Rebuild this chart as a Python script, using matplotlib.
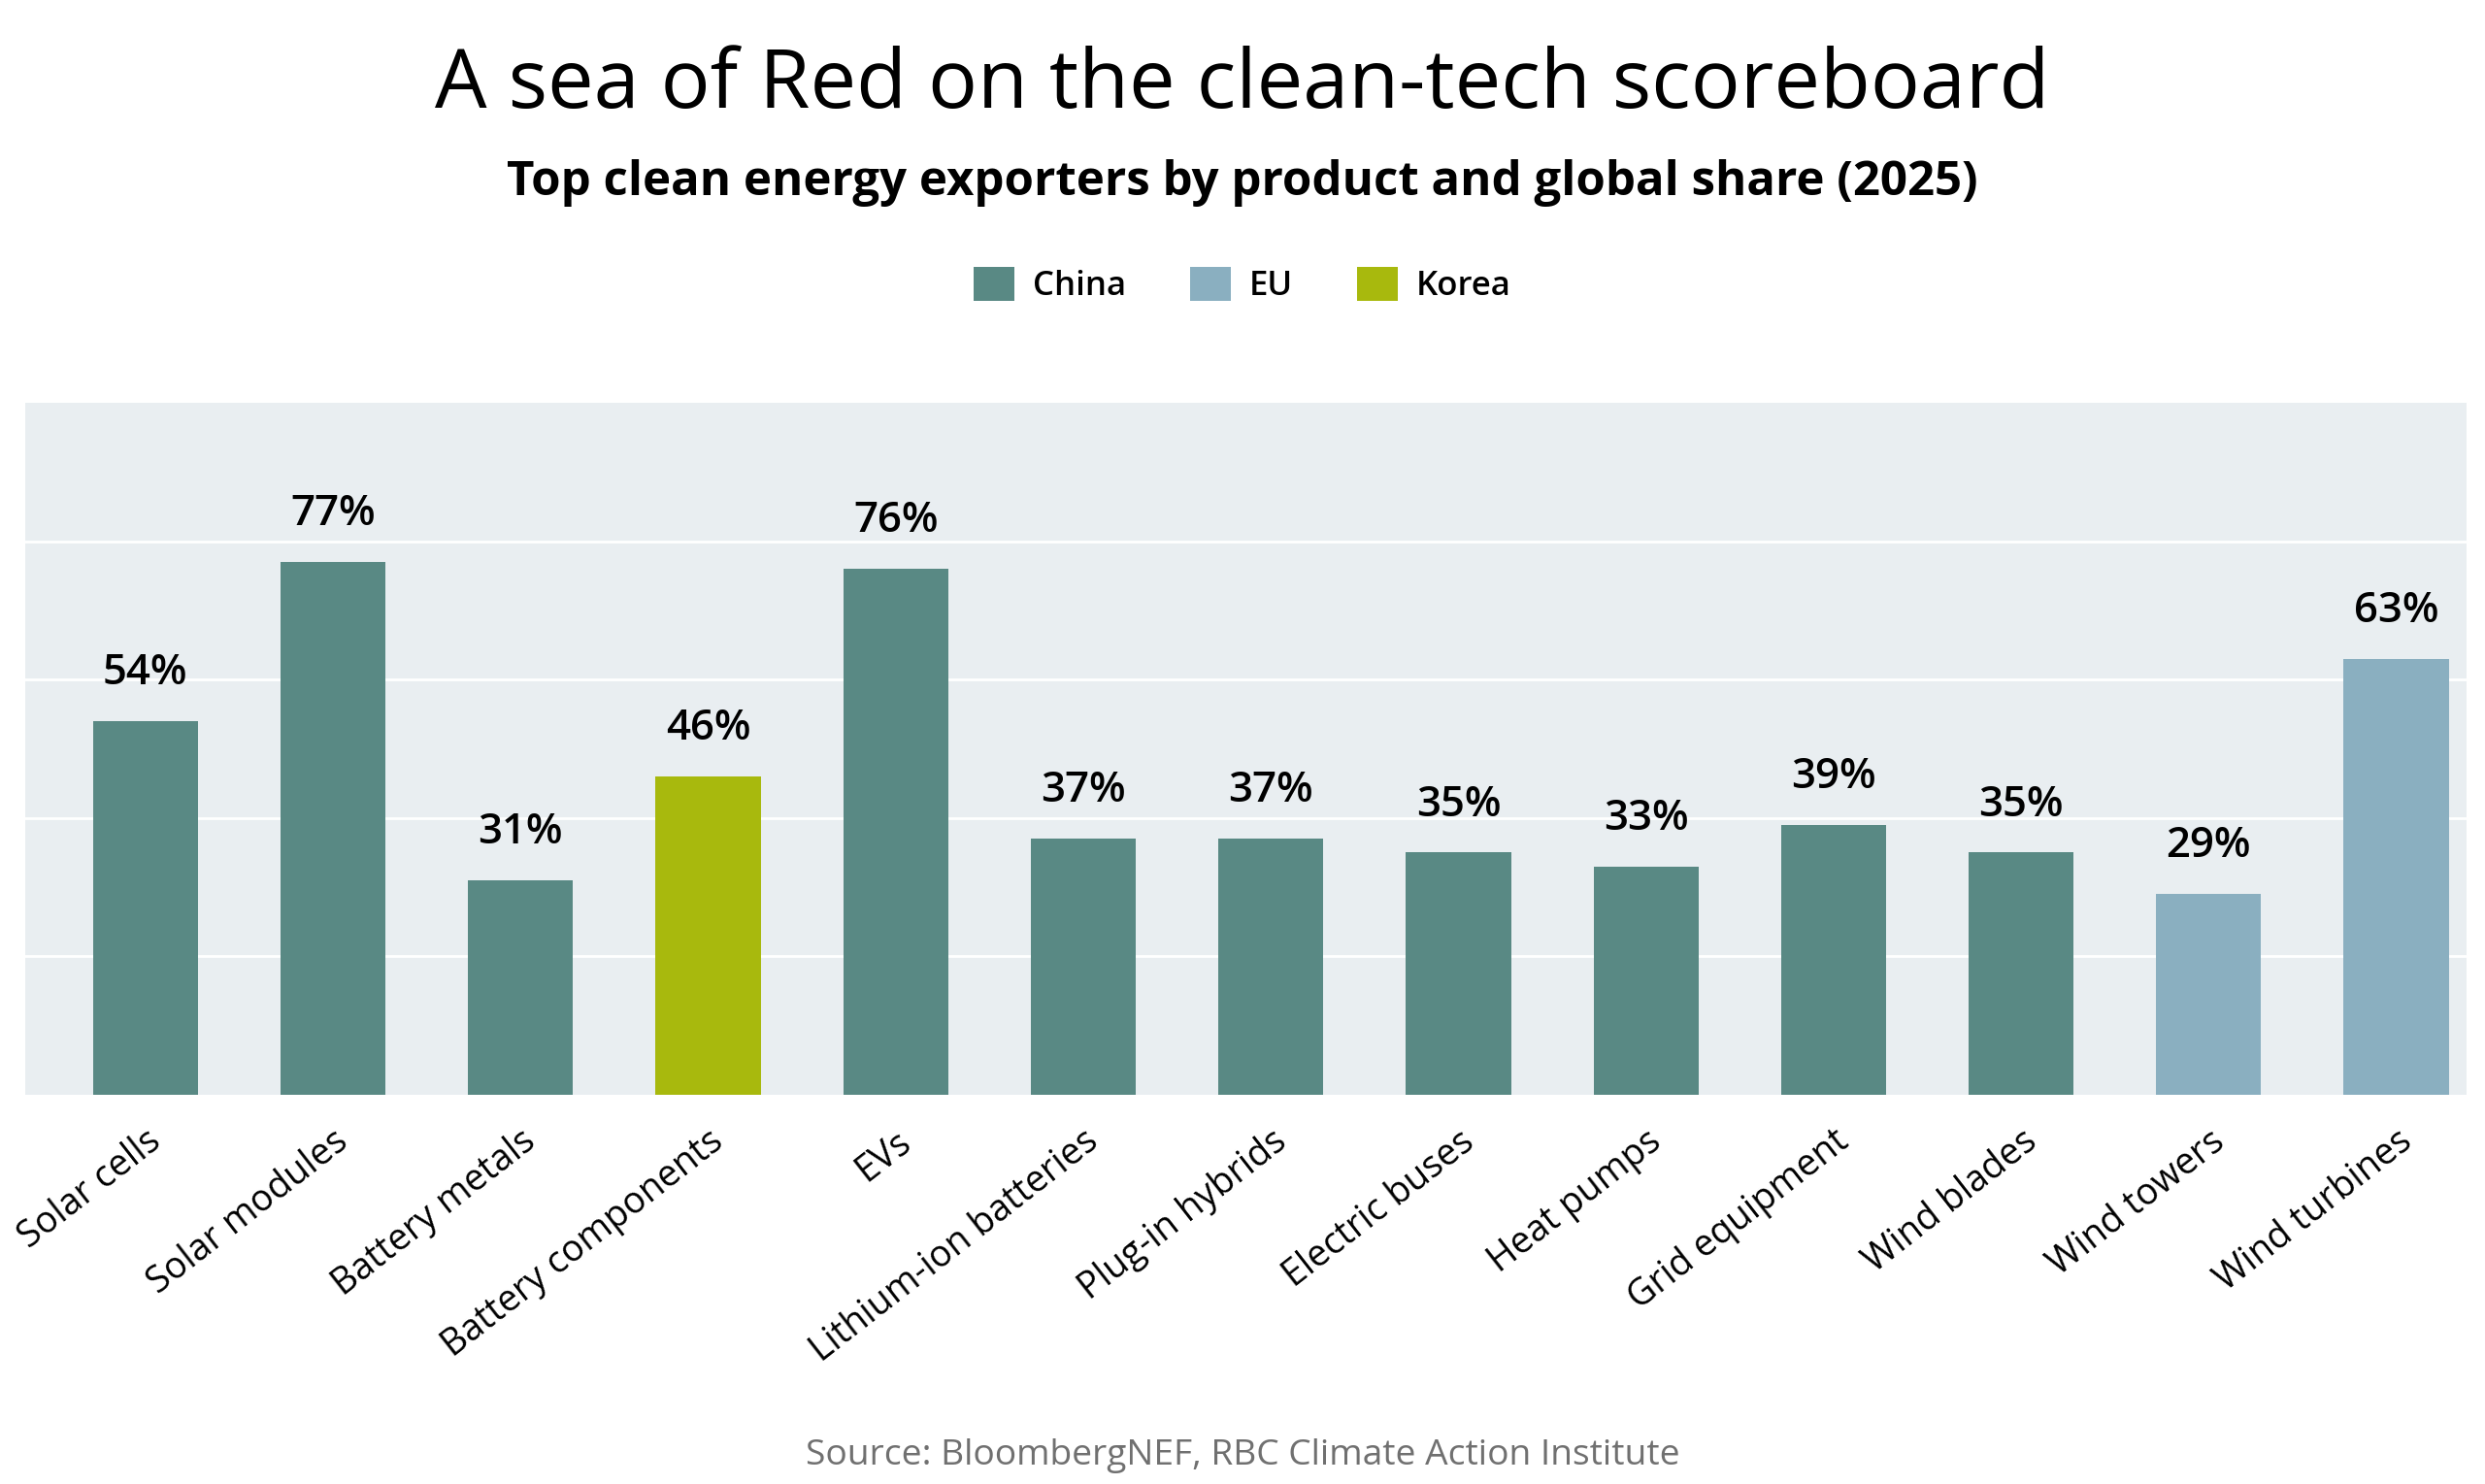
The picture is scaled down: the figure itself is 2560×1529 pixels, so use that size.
import matplotlib
matplotlib.use('Agg')
import matplotlib.pyplot as plt
from matplotlib.patches import Patch

categories = ['Solar cells', 'Solar modules', 'Battery metals', 'Battery components', 'EVs',
              'Lithium-ion batteries', 'Plug-in hybrids', 'Electric buses', 'Heat pumps',
              'Grid equipment', 'Wind blades', 'Wind towers', 'Wind turbines']
shares = [54, 77, 31, 46, 76, 37, 37, 35, 33, 39, 35, 29, 63]
exporters = ['China', 'China', 'China', 'Korea', 'China', 'China', 'China', 'China', 'China',
             'China', 'China', 'EU', 'EU']
legend_order = ['China', 'EU', 'Korea']
yticks = [20, 40, 60, 80]

colordic = {'China': '#598984', 'EU': '#8AAFC0', 'Korea': '#A8B90D'}

plt.rcParams['font.family'] = ['Open Sans', 'DejaVu Sans']

fig = plt.figure(figsize=(25.6, 15.29), dpi=100)
ax = fig.add_axes([0.0102, 0.2623, 0.9824, 0.4663])
ax.set_facecolor('#E9EEF1')

x = list(range(len(categories)))
bars = ax.bar(x, shares, width=0.56, color=[colordic[c] for c in exporters], zorder=3)
for xi, v in zip(x, shares):
    ax.annotate(f'{v}%', (xi, v), xytext=(0, 20), textcoords='offset points',
                ha='center', va='bottom', fontsize=31.5, fontweight='semibold', color='black')

ax.set_xlim(-0.64, len(categories) - 1 + 0.375)
ax.set_ylim(0, 100)
ax.set_yticks(yticks)
ax.set_yticklabels([])
ax.yaxis.grid(True, color='white', linewidth=2, zorder=1)
ax.tick_params(axis='both', length=0)
for s in ax.spines.values():
    s.set_visible(False)

ax.set_xticks(x)
ax.set_xticklabels(categories, rotation=38, ha='right', rotation_mode='anchor',
                   fontsize=27, color='black')
ax.tick_params(axis='x', pad=21)

fig.text(0.5, 0.942, 'A sea of Red on the clean-tech scoreboard', ha='center', va='center',
         fontsize=61, color='black')
fig.text(0.5, 0.877, 'Top clean energy exporters by product and global share (2025)',
         ha='center', va='center', fontsize=35.4, fontweight='bold', color='black')

handles = [Patch(facecolor=colordic[k], edgecolor='none') for k in legend_order]
fig.legend(handles, legend_order, loc='center', bbox_to_anchor=(0.5, 0.808), ncol=3,
           frameon=False, prop={'size': 25, 'weight': 'semibold'},
           handlelength=1.2, handleheight=1.2, handletextpad=0.55, columnspacing=1.9)

fig.text(0.5, 0.019, 'Source: BloombergNEF, RBC Climate Action Institute', ha='center',
         va='center', fontsize=26.7, color='#707070')

fig.savefig('out.png', dpi=100)
